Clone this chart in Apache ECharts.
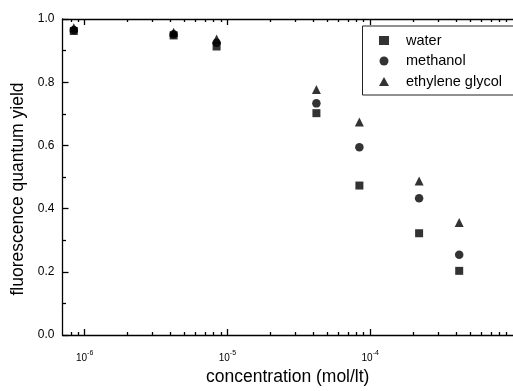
<!DOCTYPE html>
<html><head><meta charset="utf-8">
<script src="https://cdn.jsdelivr.net/npm/echarts@6/dist/echarts.min.js"></script>
<style>html,body{margin:0;padding:0;background:#fff}#c{width:513px;height:391px}</style>
</head><body><div id="c"></div>
<script>
// concentration (mol/lt)
const concentrations = [8.4e-7, 4.2e-6, 8.4e-6, 4.2e-5, 8.4e-5, 2.2e-4, 4.2e-4];
const water          = [0.962, 0.948, 0.913, 0.702, 0.473, 0.322, 0.203];
const methanol       = [0.965, 0.952, 0.925, 0.733, 0.594, 0.433, 0.254];
const ethyleneGlycol = [0.972, 0.958, 0.937, 0.777, 0.674, 0.487, 0.356];
const seriesNames = ['water', 'methanol', 'ethylene glycol'];
const xMajorTicks = [1e-6, 1e-5, 1e-4];
const xMinorTicks = [8e-7, 9e-7,
  2e-6, 3e-6, 4e-6, 5e-6, 6e-6, 7e-6, 8e-6, 9e-6,
  2e-5, 3e-5, 4e-5, 5e-5, 6e-5, 7e-5, 8e-5, 9e-5,
  2e-4, 3e-4, 4e-4, 5e-4, 6e-4, 7e-4, 8e-4, 9e-4];
const yTickLabels = ['0.0', '0.2', '0.4', '0.6', '0.8', '1.0'];

const FONT = '"Liberation Sans", Arial, sans-serif';
const X_MIN = 7e-7, X_MAX = 1e-3;
const pair = arr => concentrations.map((c, i) => [c, arr[i]]);
const lineStyle = { color: '#000', width: 1.3 };

function supLabel(v) {
  const e = Math.log10(v);
  if (Math.abs(e - Math.round(e)) > 1e-6) return '';
  return '{b|10}{s|' + Math.round(e) + '}';
}

function xAxisCfg(pos, minor) {
  return {
    type: 'log', logBase: 10, position: pos, min: X_MIN, max: X_MAX,
    gridIndex: 0,
    axisLine: { show: !minor, lineStyle: lineStyle },
    axisTick: minor
      ? { show: true, inside: true, length: 3, customValues: xMinorTicks, lineStyle: lineStyle }
      : { show: true, inside: true, length: 6, customValues: xMajorTicks, lineStyle: lineStyle },
    minorTick: { show: false },
    splitLine: { show: false },
    axisLabel: (pos === 'bottom' && !minor) ? {
      show: true, margin: 15, customValues: xMajorTicks,
      formatter: supLabel,
      rich: {
        b: { fontSize: 10, fontFamily: FONT, color: '#000', lineHeight: 13, verticalAlign: 'bottom' },
        s: { fontSize: 7, fontFamily: FONT, color: '#000', lineHeight: 8, verticalAlign: 'top' }
      }
    } : { show: false },
    name: (pos === 'bottom' && !minor) ? 'concentration (mol/lt)' : '',
    nameLocation: 'middle', nameGap: 33,
    nameTextStyle: { fontSize: 17.5, fontFamily: FONT, color: '#000' }
  };
}

const chart = echarts.init(document.getElementById('c'), null, { renderer: 'canvas' });
chart.setOption({
  animation: false,
  backgroundColor: '#fff',
  grid: { left: 62.5, top: 19, width: 465, height: 320.5, containLabel: false },
  legend: {
    orient: 'vertical', left: 362.5, top: 26,
    padding: [7, 80, 6, 16.5],
    borderColor: '#222', borderWidth: 1,
    itemWidth: 10, itemHeight: 9, itemGap: 5.5,
    textStyle: { fontSize: 14.5, fontFamily: FONT, color: '#000', lineHeight: 15, padding: [0, 0, 0, 12] },
    data: seriesNames
  },
  xAxis: [xAxisCfg('bottom', false), xAxisCfg('bottom', true), xAxisCfg('top', false), xAxisCfg('top', true)],
  yAxis: {
    type: 'value', min: 0, max: 1, interval: 0.2,
    axisLine: { show: true, lineStyle: lineStyle },
    axisTick: { show: true, inside: true, length: 6, lineStyle: lineStyle },
    minorTick: { show: true, splitNumber: 2, length: 3.5, lineStyle: lineStyle },
    splitLine: { show: false },
    axisLabel: { margin: 8, fontSize: 12, fontFamily: FONT, color: '#000',
      formatter: v => yTickLabels[Math.round(v / 0.2)] },
    name: 'fluorescence quantum yield', nameLocation: 'middle', nameGap: 32,
    nameTextStyle: { fontSize: 17.5, fontFamily: FONT, color: '#000', padding: [0, 24, 0, 0] }
  },
  series: [
    { name: seriesNames[0], type: 'scatter', symbol: 'rect', symbolSize: 8, data: pair(water), itemStyle: { color: '#000' } },
    { name: seriesNames[1], type: 'scatter', symbol: 'circle', symbolSize: 8.5, data: pair(methanol), itemStyle: { color: '#000' } },
    { name: seriesNames[2], type: 'scatter', symbol: 'triangle', symbolSize: 9, data: pair(ethyleneGlycol), itemStyle: { color: '#000' } }
  ]
});
</script></body></html>
